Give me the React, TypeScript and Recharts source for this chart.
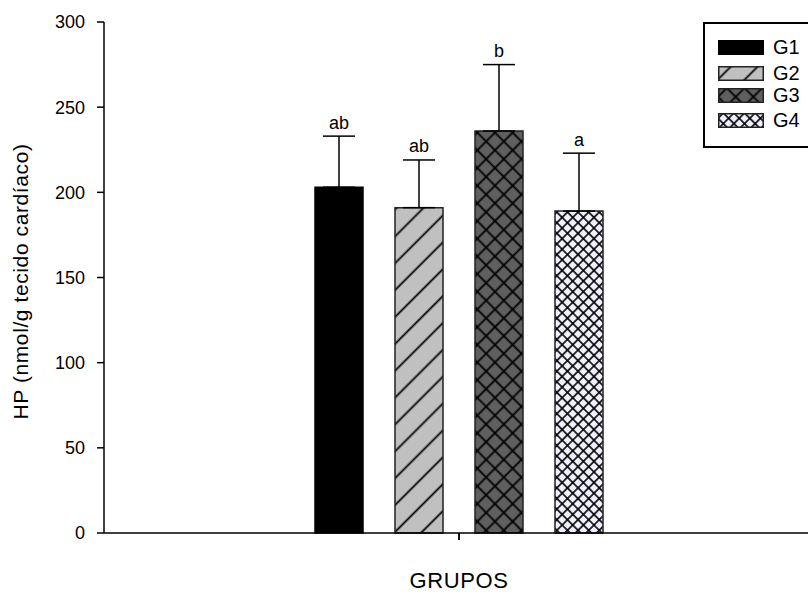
import React from 'react';
import { BarChart, Bar, XAxis, YAxis, ErrorBar, LabelList, Legend } from 'recharts';

const categories = ['G1', 'G2', 'G3', 'G4'];
const means = [203, 191, 236, 189];
const errors = [30, 28, 39, 34];
const letters = ['ab', 'ab', 'b', 'a'];
const yTicks = [0, 50, 100, 150, 200, 250, 300];
const xEdgeTicks = [0.001, 0.5];
const groupLabel = 'GRUPOS';
const yLabel = 'HP (nmol/g tecido cardíaco)';

const FONT = '"Liberation Sans", Arial, sans-serif';
const fills = ['#000000', 'url(#pG2)', 'url(#pG3)', 'url(#pG4)'];
const strokes = ['#000000', '#222222', '#222222', '#222222'];

const row: any = { grupo: groupLabel };
categories.forEach((c, i) => {
  row[c] = means[i];
  row[c + '_err'] = [0, errors[i]];
});
const data = [row];

const Patterns = () => (
  <svg width={0} height={0} style={{ position: 'absolute' }}>
    <defs>
      <pattern id="pG2" patternUnits="userSpaceOnUse" width={19} height={19} patternTransform="rotate(45)">
        <rect width={19} height={19} fill="#c0c0c0" />
        <line x1={9.5} y1={0} x2={9.5} y2={19} stroke="#000" strokeWidth={1.8} />
      </pattern>
      <pattern id="pG3" patternUnits="userSpaceOnUse" width={12.5} height={12.5} patternTransform="rotate(45)">
        <rect width={12.5} height={12.5} fill="#5f5f5f" />
        <line x1={6.25} y1={0} x2={6.25} y2={12.5} stroke="#000" strokeWidth={1.8} />
        <line x1={0} y1={6.25} x2={12.5} y2={6.25} stroke="#000" strokeWidth={1.8} />
      </pattern>
      <pattern id="pG4" patternUnits="userSpaceOnUse" width={7.5} height={7.5} patternTransform="rotate(45)">
        <rect width={7.5} height={7.5} fill="#f0f0ff" />
        <line x1={3.75} y1={0} x2={3.75} y2={7.5} stroke="#000" strokeWidth={1.6} />
        <line x1={0} y1={3.75} x2={7.5} y2={3.75} stroke="#000" strokeWidth={1.6} />
      </pattern>
    </defs>
  </svg>
);

const letterContent = (i: number) => (p: any) => {
  const x = Number(p.x);
  const y = Number(p.y);
  const w = Number(p.width);
  const h = Number(p.height);
  const top = y - (errors[i] * h) / means[i];
  return (
    <text x={x + w / 2} y={top - 7.5} textAnchor="middle" fontSize={18} fontFamily={FONT} fill="#000">
      {letters[i]}
    </text>
  );
};

const LegendBox = () => (
  <div
    style={{
      position: 'absolute',
      left: 0,
      top: 0,
      width: 120,
      height: 126,
      border: '2px solid #000',
      boxSizing: 'border-box',
      background: '#fff',
      fontFamily: FONT,
    }}
  >
    {categories.map((c, i) => {
      const tops = [16, 41.5, 64, 89];
      return (
        <div key={c} style={{ position: 'absolute', left: 13, top: tops[i], height: 15, display: 'flex', alignItems: 'center' }}>
          <svg width={46} height={15} style={{ display: 'block' }}>
            <rect x={0.75} y={0.75} width={44.5} height={13.5} fill={fills[i]} stroke={strokes[i]} strokeWidth={1.5} />
          </svg>
          <span style={{ marginLeft: 9, fontSize: 20, lineHeight: '15px', color: '#000' }}>{c}</span>
        </div>
      );
    })}
  </div>
);

const YLabelContent = (props: any) => {
  const vb = props.viewBox || {};
  const cy = vb.y + vb.height / 2 + 4;
  return (
    <text x={28} y={cy} transform={`rotate(-90, 28, ${cy})`} textAnchor="middle" fontSize={21} fontFamily={FONT} fill="#000" letterSpacing={0.6}>
      {yLabel}
    </text>
  );
};

const XLabelContent = (props: any) => {
  const vb = props.viewBox || {};
  return (
    <text x={vb.x + vb.width / 2} y={vb.y + 55} textAnchor="middle" fontSize={22} fontFamily={FONT} fill="#000" letterSpacing={0.6}>
      {groupLabel}
    </text>
  );
};

export default function App() {
  return (
    <div style={{ position: 'absolute', left: 0, top: 0, width: 808, height: 594, overflow: 'hidden', background: '#fff' }}>
      <Patterns />
      <BarChart
        width={814}
        height={594}
        data={data}
        margin={{ top: 22, right: 0, bottom: 0, left: 0 }}
        barSize={48}
        barGap={32}
      >
        <XAxis dataKey="grupo" type="category" hide height={0} />
        <XAxis
          xAxisId="edge"
          type="number"
          domain={[0, 1]}
          ticks={xEdgeTicks}
          interval={0}
          allowDataOverflow
          height={61}
          tickSize={7}
          tick={() => <g />}
          axisLine={{ stroke: '#000', strokeWidth: 1.5 }}
          tickLine={{ stroke: '#000', strokeWidth: 1.5 }}
          label={<XLabelContent />}
        />
        <YAxis
          domain={[0, 300]}
          ticks={yTicks}
          width={104}
          tickSize={7}
          tickMargin={12}
          interval={0}
          axisLine={{ stroke: '#000', strokeWidth: 1.5 }}
          tickLine={{ stroke: '#000', strokeWidth: 1.5 }}
          tick={{ fill: '#000', fontSize: 18, fontFamily: FONT }}
          label={<YLabelContent />}
        />
        <Legend
          content={() => <LegendBox />}
          wrapperStyle={{ position: 'absolute', left: 703, top: 22, width: 0, height: 0, overflow: 'visible' }}
        />
        {categories.map((c, i) => (
          <Bar key={c} dataKey={c} fill={fills[i]} stroke={strokes[i]} strokeWidth={1.5} isAnimationActive={false}>
            <ErrorBar dataKey={c + '_err'} direction="y" width={16} stroke="#000" strokeWidth={1.5} isAnimationActive={false} />
            <LabelList dataKey={c} content={letterContent(i)} />
          </Bar>
        ))}
      </BarChart>
    </div>
  );
}
